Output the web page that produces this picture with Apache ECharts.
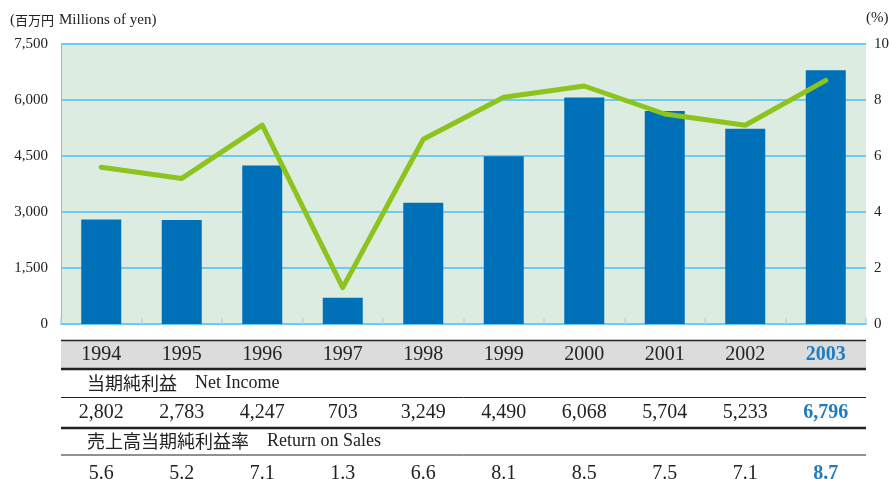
<!DOCTYPE html>
<html>
<head>
<meta charset="utf-8">
<style>
  html, body { margin: 0; padding: 0; background: #fff; }
  #chart { width: 889px; height: 479px; }
</style>
<script src="https://cdn.jsdelivr.net/npm/echarts@6/dist/echarts.min.js"></script>
</head>
<body>
<div id="chart"></div>
<script>
const years = ['1994', '1995', '1996', '1997', '1998', '1999', '2000', '2001', '2002', '2003']
const netIncome = [2802, 2783, 4247, 703, 3249, 4490, 6068, 5704, 5233, 6796]
const returnOnSales = [5.6, 5.2, 7.1, 1.3, 6.6, 8.1, 8.5, 7.5, 7.1, 8.7]
const incomeTicks = [0, 1500, 3000, 4500, 6000, 7500]
const percentTicks = [0, 2, 4, 6, 8, 10]

const serif = '"Liberation Serif", "DejaVu Serif", serif'
const cjk = '"Noto Sans CJK JP", sans-serif'
const colors = {
  text: '#222',
  plot: '#ddece0',
  grid: '#6ccbef',
  tick: '#a9d9ef',
  bar: '#0071b9',
  line: '#8cc31f',
  highlight: '#1f7cc1',
  band: '#dcdcdc',
  rule: '#222',
}

// plot box, the table below shares its left/right edges
const box = { left: 61, right: 866, top: 44, bottom: 324 }

function pad(value) {
  return String(value).replace(/\B(?=(\d{3})+(?!\d))/g, ',')
}

function rowAxis(offset, format) {
  const last = years.length - 1
  return {
    type: 'category',
    data: years,
    gridIndex: 0,
    position: 'bottom',
    offset,
    axisLine: { show: false },
    axisTick: { show: false },
    axisLabel: {
      interval: 0,
      margin: 21,
      fontFamily: serif,
      fontSize: 20,
      color: colors.text,
      formatter: (value, index) => index === last ? `{hi|${format(index)}}` : format(index),
      rich: { hi: { color: colors.highlight, fontWeight: 'bold', fontFamily: serif, fontSize: 20 } }
    }
  }
}

function rule(y, width) {
  return {
    type: 'line',
    shape: { x1: box.left, y1: y, x2: box.right, y2: y },
    style: { stroke: colors.rule, lineWidth: width }
  }
}

const titleRich = {
  c: { fontFamily: cjk, fontSize: 18, fontWeight: 'normal', color: colors.text },
  e: { fontFamily: serif, fontSize: 18, fontWeight: 'normal', color: colors.text },
  cs: { fontFamily: cjk, fontSize: 13, fontWeight: 'normal', color: colors.text },
  es: { fontFamily: serif, fontSize: 15, fontWeight: 'normal', color: colors.text },
}

const yearAxis = rowAxis(0, (i) => years[i])
yearAxis.axisLine = { show: true, lineStyle: { color: colors.grid, width: 2 } }
yearAxis.axisTick = { show: true, inside: true, length: 6, lineStyle: { color: colors.tick, width: 1.5 } }

const option = {
  animation: false,
  backgroundColor: '#fff',
  title: [
    { left: 10, top: 11, padding: 0, text: '{es|(}{cs|百万円} {es|Millions of yen)}', textStyle: { fontWeight: 'normal', rich: titleRich } },
    { left: 866, top: 11, padding: 0, text: '{es|(%)}', textStyle: { fontWeight: 'normal', rich: titleRich } },
    { left: 87, top: 374, padding: 0, text: '{c|当期純利益　}{e|Net Income}', textStyle: { fontWeight: 'normal', rich: titleRich } },
    { left: 87, top: 432, padding: 0, text: '{c|売上高当期純利益率　}{e|Return on Sales}', textStyle: { fontWeight: 'normal', rich: titleRich } },
  ],
  grid: {
    left: box.left,
    top: box.top,
    width: box.right - box.left,
    height: box.bottom - box.top,
    outerBoundsMode: 'none',
    containLabel: false,
    show: true,
    backgroundColor: colors.plot,
    borderWidth: 0
  },
  xAxis: [
    yearAxis,
    rowAxis(58, (i) => pad(netIncome[i])),
    rowAxis(119, (i) => returnOnSales[i].toFixed(1)),
  ],
  yAxis: [
    {
      type: 'value',
      min: incomeTicks[0],
      max: incomeTicks[incomeTicks.length - 1],
      interval: incomeTicks[1] - incomeTicks[0],
      axisLine: { show: true, lineStyle: { color: colors.grid, width: 1 } },
      axisTick: { show: false },
      axisLabel: { margin: 13, fontFamily: serif, fontSize: 15, color: colors.text, formatter: pad },
      splitLine: { lineStyle: { color: colors.grid, width: 2 } }
    },
    {
      type: 'value',
      min: percentTicks[0],
      max: percentTicks[percentTicks.length - 1],
      interval: percentTicks[1] - percentTicks[0],
      axisLine: { show: false },
      axisTick: { show: false },
      axisLabel: { margin: 8, fontFamily: serif, fontSize: 15, color: colors.text },
      splitLine: { show: false }
    }
  ],
  graphic: [
    {
      type: 'rect',
      shape: { x: box.left, y: 341, width: box.right - box.left, height: 28 },
      style: { fill: colors.band }
    },
    rule(340.5, 1.5),
    rule(369, 2.5),
    rule(397.5, 1),
    rule(428, 2.5),
    rule(455, 1),
  ],
  series: [
    {
      type: 'bar',
      data: netIncome,
      barWidth: 40,
      itemStyle: { color: colors.bar },
      z: 2
    },
    {
      type: 'line',
      yAxisIndex: 1,
      data: returnOnSales,
      showSymbol: false,
      lineStyle: { color: colors.line, width: 5, cap: 'round', join: 'round' },
      z: 3
    }
  ]
}

const chart = echarts.init(document.getElementById('chart'), null, { renderer: 'canvas' })
chart.setOption(option)
</script>
</body>
</html>
